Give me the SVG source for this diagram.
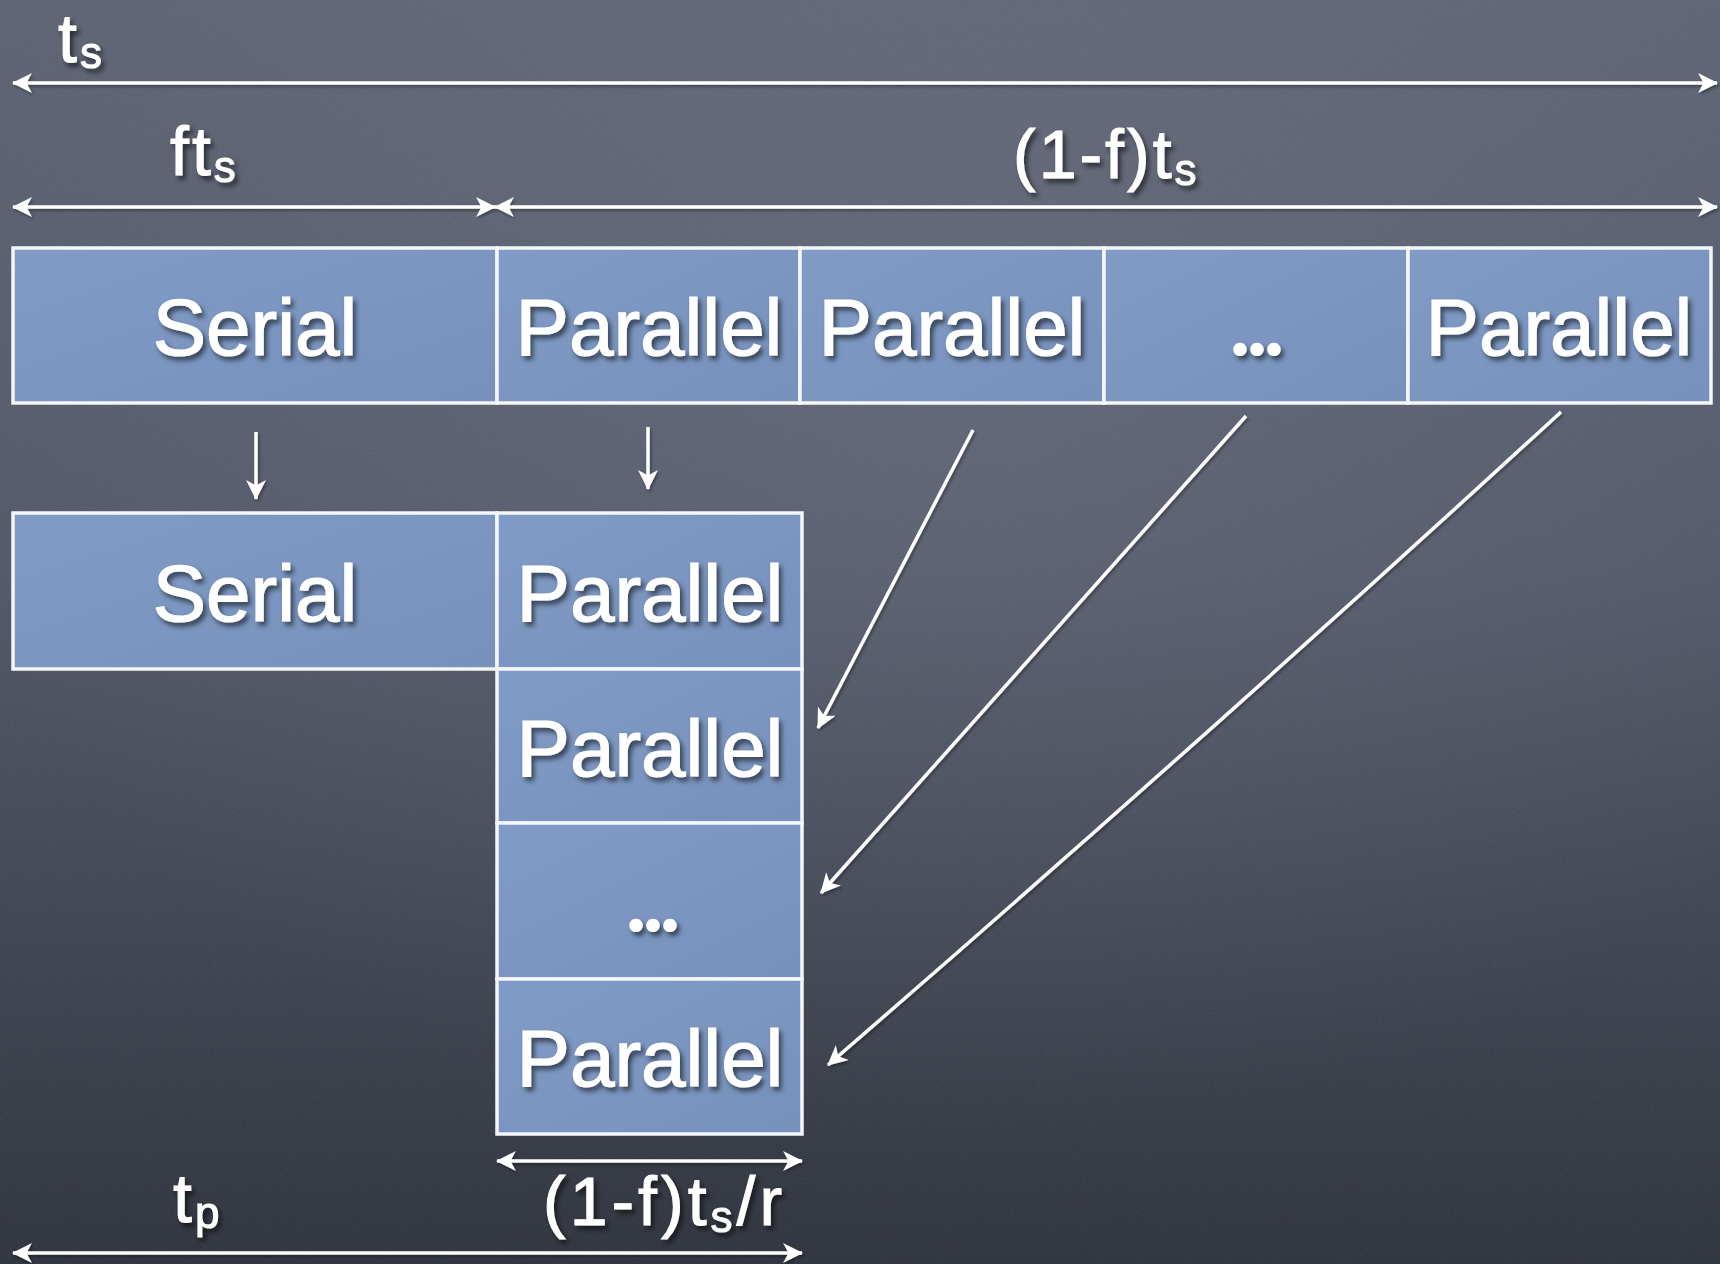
<svg xmlns="http://www.w3.org/2000/svg" width="1720" height="1264" viewBox="0 0 1720 1264">
  <defs>
    <linearGradient id="bg" x1="0" y1="0" x2="0" y2="1">
      <stop offset="0" stop-color="#5c6171"/>
      <stop offset="0.45" stop-color="#4f5565"/>
      <stop offset="1" stop-color="#2d313b"/>
    </linearGradient>
    <radialGradient id="glow" cx="0.55" cy="0.3" r="0.6">
      <stop offset="0" stop-color="#7a8090" stop-opacity="0.3"/>
      <stop offset="1" stop-color="#7a8090" stop-opacity="0"/>
    </radialGradient>
    <linearGradient id="boxfill" x1="0" y1="0" x2="1" y2="1">
      <stop offset="0" stop-color="#809bc5"/>
      <stop offset="1" stop-color="#7791bc"/>
    </linearGradient>
    <filter id="noise" x="0" y="0" width="100%" height="100%">
      <feTurbulence type="fractalNoise" baseFrequency="0.6" numOctaves="2" seed="3"/>
      <feColorMatrix type="matrix" values="0 0 0 0 1  0 0 0 0 1  0 0 0 0 1  0 0 0 0.06 0"/>
    </filter>
    <filter id="shadow" x="-20%" y="-20%" width="140%" height="160%">
      <feDropShadow dx="3" dy="4" stdDeviation="2.5" flood-color="#000" flood-opacity="0.55"/>
    </filter>
    <filter id="lshadow" x="-5%" y="-5%" width="110%" height="110%">
      <feDropShadow dx="1.5" dy="2" stdDeviation="1.5" flood-color="#000" flood-opacity="0.35"/>
    </filter>
    <marker id="ah" viewBox="0 0 20 20" refX="19" refY="10" markerWidth="20" markerHeight="20" markerUnits="userSpaceOnUse" orient="auto-start-reverse">
      <path d="M20,10 L0,0 L5.5,10 L0,20 z" fill="#ffffff"/>
    </marker>
    <style>
      .box { fill: url(#boxfill); stroke: #f4f6f9; stroke-width: 3.5; }
      .big { font-family: "Liberation Sans", Arial, sans-serif; font-size: 80px; fill: #ffffff; stroke: #ffffff; stroke-width: 1.2; text-anchor: middle; filter: url(#shadow); }
      .lbl { font-family: "Liberation Sans", Arial, sans-serif; font-size: 68px; fill: #ffffff; stroke: #ffffff; stroke-width: 1; filter: url(#shadow); }
      .sub { font-size: 44px; }
      .dots { font-family: Lato, "Liberation Sans", sans-serif; font-weight: bold; letter-spacing: -2px; stroke-linejoin: round; }
      .arr { stroke: #ffffff; stroke-width: 3.5; fill: none; }
      .dbl { marker-start: url(#ah); marker-end: url(#ah); }
      .one { marker-end: url(#ah); }
    </style>
  </defs>

  <rect x="0" y="0" width="1720" height="1264" fill="url(#bg)"/>
  <rect x="0" y="0" width="1720" height="1264" fill="url(#glow)"/>
  <rect x="0" y="0" width="1720" height="1264" filter="url(#noise)"/>

  <!-- labels -->
  <g id="label-ts">
    <text class="lbl" x="58" y="62" font-size="66" letter-spacing="3">t<tspan class="sub" dy="6">s</tspan></text>
  </g>
  <g id="label-fts">
    <text class="lbl" x="170" y="175" letter-spacing="3">ft<tspan class="sub" dy="7">s</tspan></text>
  </g>
  <g id="label-1fts">
    <text class="lbl" x="1013" y="178" letter-spacing="3">(1-f)t<tspan class="sub" dy="7">s</tspan></text>
  </g>
  <g id="label-tp">
    <text class="lbl" x="173" y="1222" letter-spacing="3">t<tspan class="sub" dy="6">p</tspan></text>
  </g>
  <g id="label-1ftsr">
    <text class="lbl" x="543" y="1225" letter-spacing="4">(1-f)t<tspan class="sub" dy="7">s</tspan><tspan dy="-7">/r</tspan></text>
  </g>

  <!-- top row -->
  <g id="serial-top">
    <rect class="box" x="13" y="248" width="484" height="155"/>
    <text class="big" x="255" y="355">Serial</text>
  </g>
  <g id="parallel-top-1">
    <rect class="box" x="497" y="248" width="303" height="155"/>
    <text class="big" x="649" y="355">Parallel</text>
  </g>
  <g id="parallel-top-2">
    <rect class="box" x="800" y="248" width="304" height="155"/>
    <text class="big" x="952" y="355">Parallel</text>
  </g>
  <g id="dots-top">
    <rect class="box" x="1104" y="248" width="304" height="155"/>
    <text class="big dots" x="1256" y="355">...</text>
  </g>
  <g id="parallel-top-n">
    <rect class="box" x="1408" y="248" width="303" height="155"/>
    <text class="big" x="1559" y="355">Parallel</text>
  </g>

  <!-- bottom layout -->
  <g id="serial-bottom">
    <rect class="box" x="13" y="513" width="484" height="156"/>
    <text class="big" x="255" y="621">Serial</text>
  </g>
  <g id="parallel-col-1">
    <rect class="box" x="497" y="513" width="305" height="156"/>
    <text class="big" x="650" y="621">Parallel</text>
  </g>
  <g id="parallel-col-2">
    <rect class="box" x="497" y="669" width="305" height="154"/>
    <text class="big" x="650" y="776">Parallel</text>
  </g>
  <g id="dots-col">
    <rect class="box" x="497" y="823" width="305" height="156"/>
    <text class="big dots" x="652" y="931">...</text>
  </g>
  <g id="parallel-col-n">
    <rect class="box" x="497" y="979" width="305" height="155"/>
    <text class="big" x="650" y="1086">Parallel</text>
  </g>

  <!-- connectors -->
  <g id="connectors" filter="url(#lshadow)">
    <line class="arr dbl" x1="13" y1="83" x2="1717" y2="83"/>
    <line class="arr dbl" x1="13" y1="207" x2="495" y2="207"/>
    <line class="arr dbl" x1="495" y1="207" x2="1717" y2="207"/>
    <line class="arr one" x1="256" y1="432" x2="256" y2="499"/>
    <line class="arr one" x1="648" y1="427" x2="648" y2="489"/>
    <line class="arr one" x1="973" y1="430" x2="818" y2="728"/>
    <line class="arr one" x1="1246" y1="416" x2="821" y2="893"/>
    <path class="arr one" d="M1561,412 Q1199,744 828,1065"/>
    <line class="arr dbl" x1="497" y1="1161" x2="802" y2="1161"/>
    <line class="arr dbl" x1="13" y1="1253" x2="802" y2="1253"/>
  </g>
</svg>
